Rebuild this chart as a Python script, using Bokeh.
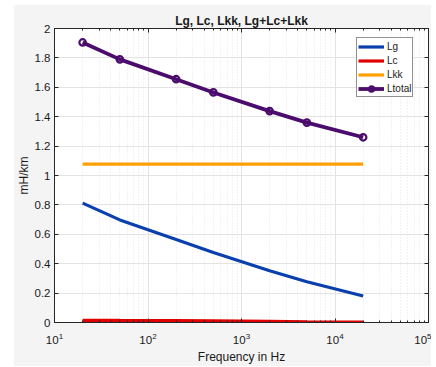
from bokeh.plotting import figure
from bokeh.models import (LinearAxis, FixedTicker, LogTicker, Range1d, Legend)
from bokeh.embed import file_html
from bokeh.resources import INLINE

freq = [20, 50, 200, 500, 2000, 5000, 20000]
Lg = [0.812, 0.698, 0.564, 0.476, 0.352, 0.277, 0.180]
Lc = [0.015, 0.014, 0.013, 0.011, 0.008, 0.005, 0.002]
Lkk = [1.078, 1.078, 1.078, 1.078, 1.078, 1.078, 1.078]
Ltotal = [1.905, 1.790, 1.655, 1.565, 1.438, 1.360, 1.260]
y_ticks = [0, 0.2, 0.4, 0.6, 0.8, 1, 1.2, 1.4, 1.6, 1.8, 2]
y_tick_labels = ["0", "0.2", "0.4", "0.6", "0.8", "1", "1.2", "1.4", "1.6", "1.8", "2"]
x_decades = [10, 100, 1000, 10000, 100000]
x_minor = [m * d for d in [10, 100, 1000, 10000] for m in range(2, 10)]

FONT = "Liberation Sans"
AX = "#262626"
GRID = "#e3e3e3"

p = figure(width=418, height=362, x_axis_type="log",
           x_range=Range1d(10, 1e5), y_range=Range1d(0, 2),
           output_backend="svg", toolbar_location=None,
           min_border_left=38, min_border_right=3, min_border_top=24,
           min_border_bottom=38,
           title="Lg, Lc, Lkk, Lg+Lc+Lkk")
p.margin = (4, 0, 0, 13)
p.background_fill_color = "white"
p.border_fill_color = "#f4f4f4"
p.outline_line_color = AX
p.outline_line_width = 1

p.title.text_font = FONT
p.title.text_font_size = "12px"
p.title.text_font_style = "bold"
p.title.align = "center"
p.title.standoff = 2
p.title.offset = 0
p.title.text_color = "#1a1a1a"

# axes
xa = p.xaxis[0]
xa.ticker = LogTicker(num_minor_ticks=10)
ya = p.yaxis[0]
ya.ticker = FixedTicker(ticks=y_ticks)
ya.major_label_overrides = {t: l for t, l in zip(y_ticks, y_tick_labels)}
for ax in (xa, ya):
    ax.axis_line_color = AX
    ax.major_tick_line_color = AX
    ax.minor_tick_line_color = AX
    ax.major_tick_in = 4
    ax.major_tick_out = 0
    ax.minor_tick_in = 2
    ax.minor_tick_out = 0
    ax.major_label_text_font = FONT
    ax.major_label_text_font_size = "11.5px"
    ax.major_label_text_color = "#1a1a1a"
    ax.axis_label_text_font = FONT
    ax.axis_label_text_font_size = "12px"
    ax.axis_label_text_font_style = "normal"
    ax.axis_label_text_color = "#1a1a1a"
ya.minor_tick_line_color = None
xa.axis_label = "Frequency in Hz"
ya.axis_label = "mH/km"
xa.major_label_standoff = 10
xa.axis_label_standoff = 3
ya.major_label_standoff = 4
ya.axis_label_standoff = 1

# box axes (top / right) with ticks inside, no labels
top = LinearAxis(ticker=FixedTicker(ticks=x_decades, minor_ticks=x_minor))
right = LinearAxis(ticker=FixedTicker(ticks=y_ticks))
for ax in (top, right):
    ax.axis_line_color = AX
    ax.major_tick_line_color = AX
    ax.minor_tick_line_color = AX
    ax.major_tick_in = 4
    ax.major_tick_out = 0
    ax.minor_tick_in = 2
    ax.minor_tick_out = 0
    ax.major_label_text_color = None
    ax.major_label_text_font_size = "1px"
    ax.major_label_standoff = 0
right.minor_tick_line_color = None
p.add_layout(top, "above")
p.add_layout(right, "right")

# grid
p.xgrid.grid_line_color = GRID
p.ygrid.grid_line_color = GRID
p.ygrid.ticker = FixedTicker(ticks=y_ticks)
p.xgrid.minor_grid_line_color = "#e6e6e6"
p.xgrid.minor_grid_line_dash = "1 2"

# data
r_lg = p.line(freq, Lg, line_color="#0a3fae", line_width=3.2)
r_lc = p.line(freq, Lc, line_color="#e00000", line_width=3.2)
r_lkk = p.line(freq, Lkk, line_color="#ffa000", line_width=3.2)
r_lt = p.line(freq, Ltotal, line_color="#4b0c6e", line_width=3.8)
r_lm = p.scatter(freq, Ltotal, size=6.5, line_color="#4b0c6e", line_width=2.2,
                 fill_color="white", fill_alpha=0.0)

legend = Legend(items=[("Lg", [r_lg]), ("Lc", [r_lc]), ("Lkk", [r_lkk]),
                       ("Ltotal", [r_lt, r_lm])],
                location=(302, 225))
legend.label_text_font = FONT
legend.label_text_font_size = "10px"
legend.label_text_color = "#1a1a1a"
legend.glyph_width = 26
legend.glyph_height = 13
legend.label_height = 14
legend.label_standoff = 3
legend.spacing = 0
legend.padding = 1
legend.margin = 0
legend.border_line_color = AX
legend.border_line_width = 1
legend.background_fill_color = "white"
legend.background_fill_alpha = 1
p.add_layout(legend, "center")

open("out.html", "w").write(file_html(p, INLINE))
